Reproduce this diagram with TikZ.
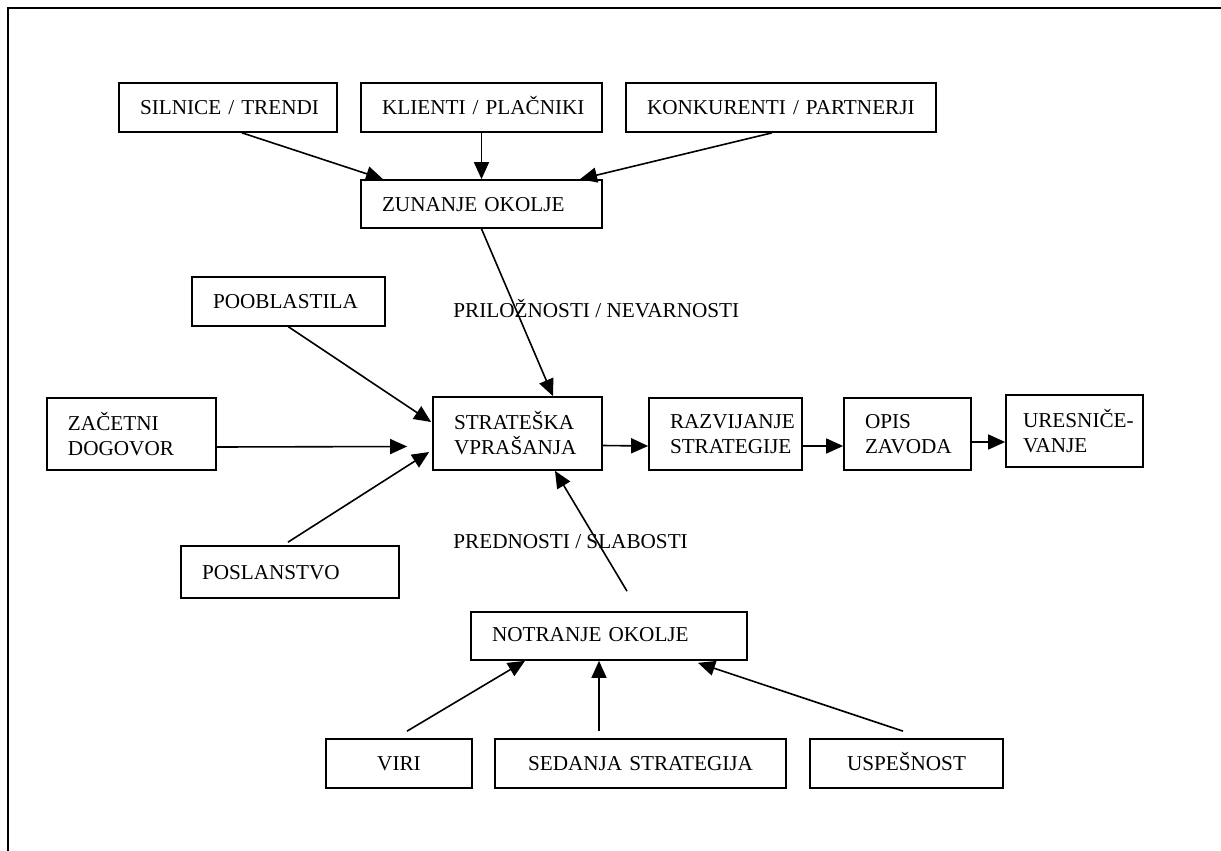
\documentclass[tikz,border=0pt]{standalone}
\usepackage{fontspec}
\setmainfont{Liberation Serif}
\usetikzlibrary{arrows.meta}
\begin{document}
\begin{tikzpicture}[x=0.5pt,y=-0.5pt,
  txt/.style={font=\fontsize{10.6}{12.5}\selectfont},
  box/.style={txt, draw, line width=0.85pt, rectangle, inner xsep=10.5pt, inner ysep=0pt, align=left},
  one/.style={text height=7pt, text depth=0pt},
  cbox/.style={box, one, align=center},
  link/.style={line width=0.8pt, -{Triangle[length=8.5pt,width=7.5pt]}},
  lbl/.style={txt, inner sep=0pt, anchor=base west}]
\useasboundingbox (0,0) rectangle (1221,851);
% page frame
\draw[line width=1pt] (8,851) -- (8,8) -- (1221,8);

% top row
\node[box, one, text width=88pt, minimum height=24.5pt] (sil) at (228,107.5) {SILNICE~/~TRENDI};
\node[box, one, text width=99.5pt, minimum height=24.5pt] (kli) at (481.5,107.5) {KLIENTI~/~PLAČNIKI};
\node[box, one, text width=134pt, minimum height=24.5pt] (kon) at (781,107.5) {KONKURENTI~/~PARTNERJI};
\node[box, one, text width=99.5pt, minimum height=24pt] (zun) at (481.5,204) {ZUNANJE~OKOLJE};

% left inputs
\node[box, one, text width=75.5pt, minimum height=24.5pt] (poo) at (288.5,301.5) {POOBLASTILA};
\node[box, text width=63.5pt, minimum height=36pt] (zac) at (131.5,434) {ZAČETNI\\DOGOVOR};
\node[box, one, text width=88pt, minimum height=26pt] (pos) at (290,572) {POSLANSTVO};

% main chain
\node[box, text width=63.5pt, minimum height=36.5pt] (str) at (517.5,433.5) {STRATEŠKA\\VPRAŠANJA};
\node[box, text width=55.5pt, minimum height=36pt] (raz) at (725.5,434) {RAZVIJANJE\\STRATEGIJE};
\node[box, text width=42.5pt, minimum height=36pt] (opi) at (907.5,434) {OPIS\\ZAVODA};
\node[box, inner xsep=8.5pt, text width=51.5pt, minimum height=36pt] (ure) at (1074.5,431) {\mbox{URESNIČE-}\\VANJE};

% internal environment
\node[box, text height=7pt, text depth=2pt, text width=117pt, minimum height=24pt] (not) at (609,636) {NOTRANJE~OKOLJE};
\node[cbox, text width=52pt, minimum height=24.5pt] (vir) at (399,763.5) {VIRI};
\node[cbox, text width=124.5pt, minimum height=24.5pt] (sed) at (640.5,763.5) {SEDANJA~STRATEGIJA};
\node[cbox, text width=75.5pt, minimum height=24.5pt] (usp) at (906.5,763.5) {USPEŠNOST};

% labels on the connectors
\node[lbl] (opp) at (453,317) {PRILOŽNOSTI / NEVARNOSTI};
\node[lbl] (sw) at (453,548) {PREDNOSTI / SLABOSTI};

% connectors
\draw[link] ([xshift=7pt]sil.south) -- ([xshift=-49.25pt]zun.north);
\draw[link] (kli.south) -- (zun.north);
\draw[link] ([xshift=-4.5pt]kon.south) -- ([xshift=49.25pt]zun.north);
\draw[link] (zun.south) -- ([xshift=17.75pt]str.north);
\draw[link] (poo.south) -- ([xshift=-0.5pt,yshift=5.75pt]str.west);
\draw[link] ([yshift=-6.5pt]zac.east) -- ([xshift=-12.5pt,yshift=-6.5pt]str.west);
\draw[link] ([xshift=-1pt,yshift=1.5pt]pos.north) -- ([xshift=-1.5pt,yshift=-9.25pt]str.west);
\draw[link] ([xshift=9pt,yshift=10pt]not.north) -- ([xshift=18.75pt]str.south);
\draw[link] ([yshift=-6pt]str.east) -- ([yshift=-6pt]raz.west);
\draw[link] ([yshift=-6pt]raz.east) -- ([yshift=-6pt]opi.west);
\draw[link] ([yshift=-4pt]opi.east) -- ([yshift=-5.5pt]ure.west);
\draw[link] ([xshift=4pt,yshift=3.5pt]vir.north) -- ([xshift=-42pt]not.south);
\draw[link] ([xshift=-20.75pt,yshift=3.5pt]sed.north) -- ([xshift=-5pt]not.south);
\draw[link] ([xshift=-1.75pt,yshift=3.5pt]usp.north) -- ([xshift=44.5pt,yshift=-1pt]not.south);
\end{tikzpicture}
\end{document}
